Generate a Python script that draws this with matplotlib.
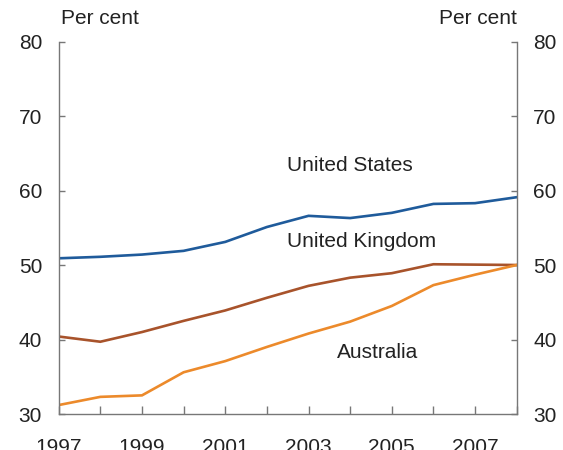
import matplotlib
matplotlib.use('Agg')
import matplotlib.pyplot as plt

plt.rcParams['font.family'] = ['Liberation Sans', 'DejaVu Sans']

years = list(range(1997, 2009))
united_states = [50.9, 51.1, 51.4, 51.9, 53.1, 55.1, 56.6, 56.3, 57.0, 58.2, 58.3, 59.1]
united_kingdom = [40.4, 39.7, 41.0, 42.5, 43.9, 45.6, 47.2, 48.3, 48.9, 50.1, 50.05, 50.0]
australia = [31.2, 32.3, 32.5, 35.6, 37.1, 39.0, 40.8, 42.4, 44.5, 47.3, 48.7, 50.0]
year_labels = ['1997', '1999', '2001', '2003', '2005', '2007']

text_col = '#222222'
axis_col = '#777777'
fs = 15

fig = plt.figure(figsize=(5.63, 4.5), dpi=100)
ax = fig.add_axes([58.7 / 563, 1 - 414 / 450, (516.7 - 58.7) / 563, (414 - 41.5) / 450])

ax.plot(years, united_states, color='#1f5b9b', lw=1.9, solid_joinstyle='miter')
ax.plot(years, united_kingdom, color='#a8532b', lw=1.9, solid_joinstyle='miter')
ax.plot(years, australia, color='#ec8a2b', lw=1.9, solid_joinstyle='miter')

ax.set_xlim(1997, 2008)
ax.set_ylim(30, 80)
ax.set_yticks([30, 40, 50, 60, 70, 80])
ax.set_xticks(years)
ax.set_xticklabels([str(y) if str(y) in year_labels else '' for y in years])

ax.spines['top'].set_visible(False)
for s in ['left', 'right', 'bottom']:
    ax.spines[s].set_color(axis_col)
    ax.spines[s].set_linewidth(1.0)

ax.tick_params(axis='y', direction='in', length=4, width=1, color=axis_col,
               labelsize=fs, labelcolor=text_col, pad=12, left=True, right=True,
               labelleft=True, labelright=True)
ax.tick_params(axis='x', direction='in', length=6, width=1, color=axis_col,
               labelsize=fs, labelcolor=text_col, pad=17)

ax.text(0.005, 1.035, 'Per cent', transform=ax.transAxes, ha='left', va='bottom',
        fontsize=fs, color=text_col)
ax.text(1.0, 1.035, 'Per cent', transform=ax.transAxes, ha='right', va='bottom',
        fontsize=fs, color=text_col)

ax.text(2002.48, 63.4, 'United States', fontsize=fs, color=text_col, va='center')
ax.text(2002.48, 53.2, 'United Kingdom', fontsize=fs, color=text_col, va='center')
ax.text(2003.68, 38.3, 'Australia', fontsize=fs, color=text_col, va='center')

plt.savefig('out.png', dpi=100)
plt.close()
